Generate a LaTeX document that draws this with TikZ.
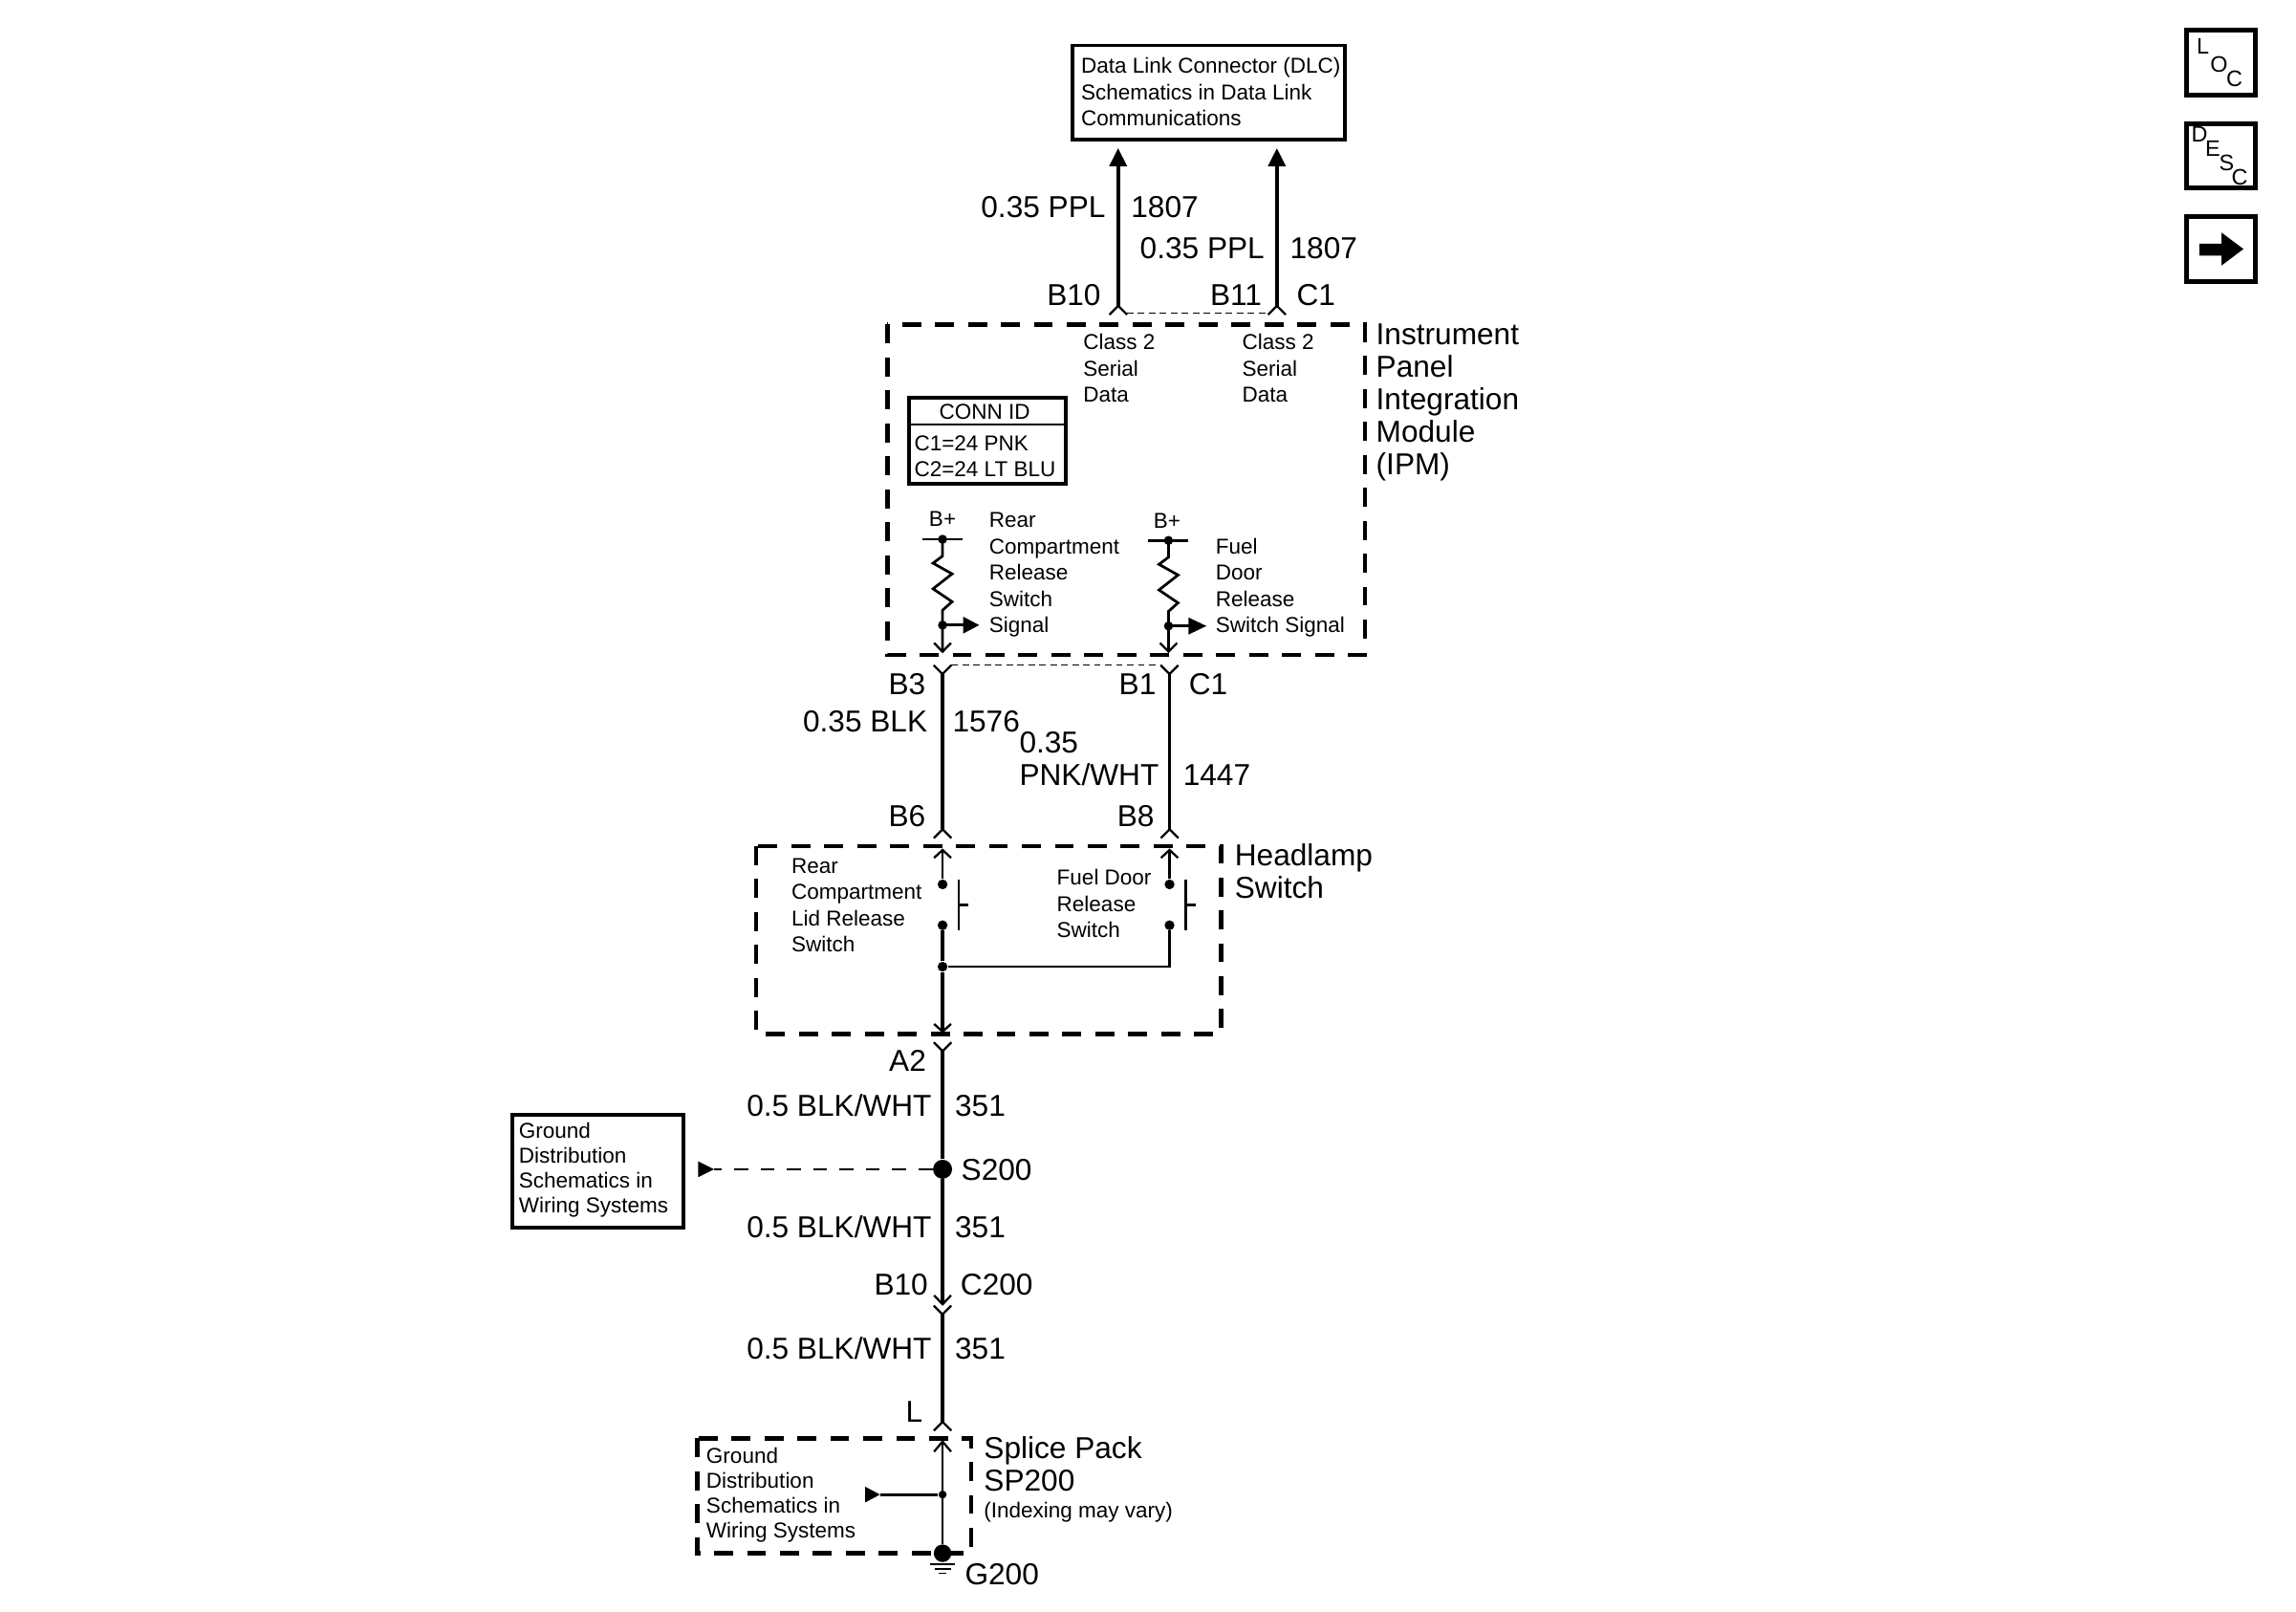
\documentclass[tikz,border=0pt]{standalone}
\usepackage{fontspec}
\setmainfont{Liberation Sans}
\newcommand{\bigf}{\fontsize{11.75pt}{12.66pt}\selectfont}
\newcommand{\smf}{\fontsize{8.36pt}{10.2pt}\selectfont}
\newcommand{\gndf}{\fontsize{8.36pt}{9.7pt}\selectfont}
\newcommand{\chevup}[1]{\draw[chev] ([shift={(-6,6)}]#1) -- (#1) -- ([shift={(6,6)}]#1);}
\newcommand{\chevdn}[1]{\draw[chev] ([shift={(-6,-6)}]#1) -- (#1) -- ([shift={(6,-6)}]#1);}
\tikzset{
  wire/.style={line width=0.052cm},
  thinwire/.style={line width=0.036cm},
  chev/.style={line width=0.03cm},
  dbox/.style={line width=0.058cm,dash pattern=on 0.26cm off 0.19cm},
  cdash/.style={line width=0.016cm,dash pattern=on 0.09cm off 0.06cm},
  bl/.style={anchor=base west,inner sep=0,outer sep=0,font=\bigf,align=left},
  sl/.style={anchor=base west,inner sep=0,outer sep=0,font=\smf,align=left},
  gl/.style={anchor=base west,inner sep=0,outer sep=0,font=\gndf,align=left},
  dotn/.style={circle,fill=black,inner sep=0,minimum size=0.125cm},
  icn/.style={anchor=base west,inner sep=0,outer sep=0,font=\fontsize{8.7pt}{10pt}\selectfont},
}
\begin{document}
\begin{tikzpicture}[x=0.02cm,y=-0.02cm]
\useasboundingbox[fill=white] (0,0) rectangle (1568,1100);

% --- DLC box ---
\draw[line width=0.052cm] (732.5,31) rectangle (918.5,95);
\node[sl] (dlctext) at (738.3,85.9) {Data Link Connector (DLC)\\Schematics in Data Link\\Communications};

% --- wires to DLC ---
\coordinate (t1) at (763.6,101.3);
\coordinate (t2) at (872,101.3);
\coordinate (b1) at (763.6,208.8);
\coordinate (b2) at (872,208.8);
\draw[wire] (b1) -- (763.6,112);
\draw[wire] (b2) -- (872,112);
\fill (t1) -- ++(6.2,12.2) -- ++(-12.4,0) -- cycle;
\fill (t2) -- ++(6.2,12.2) -- ++(-12.4,0) -- cycle;
\chevup{b1}\chevup{b2}
\draw[cdash] (769.6,214) -- (866,214);
\node[bl] (w1a) at (670,148.5) {0.35 PPL};
\node[bl] (w1b) at (772.5,148.5) {1807};
\node[bl] (w2a) at (778.6,176.5) {0.35 PPL};
\node[bl] (w2b) at (881,176.5) {1807};
\node[bl] (pb10) at (715,208.8) {B10};
\node[bl] (pb11) at (826.5,208.8) {B11};
\node[bl] (pc1) at (885.5,208.8) {C1};

% --- IPM ---
\draw[dbox] (606,221.6) rectangle (932,447);
\node[bl] (ipm) at (939.8,324.2) {Instrument\\Panel\\Integration\\Module\\(IPM)};
\node[sl] (cl1) at (739.9,274.7) {Class 2\\Serial\\Data};
\node[sl] (cl2) at (848.3,274.7) {Class 2\\Serial\\Data};
% conn id
\draw[line width=0.05cm] (620.7,271.6) rectangle (728,330.2);
\draw[line width=0.036cm] (620.7,289.8) -- (728,289.8);
\node[sl,anchor=base] (cid) at (672.4,286.3) {CONN ID};
\node[sl] (cid1) at (624.4,325.7) {C1=24 PNK\\C2=24 LT BLU};

% left pull-up
\node[sl] (bpl) at (634.5,359.2) {B+};
\draw[thinwire] (630,368.2) -- (657.5,368.2);
\coordinate (lr) at (643.7,368.2);
\coordinate (lj) at (643.7,426.8);
\coordinate (lt) at (643.7,444.9);
\draw[thinwire] (lr) -- ++(0,11.4) -- (637.2,384.5) -- (650.2,391.8) -- (637.2,402) -- (650.2,410.8) -- (643.7,416.6) -- (lj) -- (lt);
\node[dotn] at (lr) (ld1) {};
\node[dotn] at (lj) (ld2) {};
\draw[thinwire] (lj) -- (658,426.8);
\fill (668.7,426.8) -- ++(-11,-5.8) -- ++(0,11.6) -- cycle;
\draw[chev] (637.9,439) -- (lt) -- (649.5,439);
\node[sl] (lt1) at (675.6,432) {Rear\\Compartment\\Release\\Switch\\Signal};

% right pull-up
\node[sl] (bpr) at (787.8,360.6) {B+};
\draw[thinwire] (784,369) -- (811.7,369);
\coordinate (rr) at (798,369);
\coordinate (rj) at (798,427.4);
\coordinate (rt) at (798,444.9);
\draw[thinwire] (rr) -- ++(0,11.4) -- (791.5,385.3) -- (804.5,392.6) -- (791.5,402.8) -- (804.5,411.6) -- (798,417.4) -- (rj) -- (rt);
\node[dotn] at (rr) (rd1) {};
\node[dotn] at (rj) (rd2) {};
\draw[thinwire] (rj) -- (812,427.4);
\fill (823.9,427.4) -- ++(-12.2,-5.8) -- ++(0,11.6) -- cycle;
\draw[chev] (792.2,439) -- (rt) -- (803.8,439);
\node[sl] (rt1) at (830.2,432) {Fuel\\Door\\Release\\Switch Signal};

% --- wires IPM to headlamp switch ---
\coordinate (c3) at (643.7,460.2);
\coordinate (c4) at (798.7,460.2);
\coordinate (c5) at (643.7,566.2);
\coordinate (c6) at (798.7,566.2);
\draw[wire] (c3) -- (c5);
\draw[thinwire] (c4) -- (c6);
\chevdn{c3}\chevdn{c4}\chevup{c5}\chevup{c6}
\draw[cdash] (649.7,454.2) -- (792.7,454.2);
\node[bl] (pb3) at (606.8,474.3) {B3};
\node[bl] (pb1) at (764.2,474.3) {B1};
\node[bl] (pc1b) at (812,474.3) {C1};
\node[bl] (w3a) at (548.4,499.4) {0.35 BLK};
\node[bl] (w3b) at (650.5,499.4) {1576};
\node[bl] (w4a) at (696.2,536.4) {0.35\\PNK/WHT};
\node[bl] (w4b) at (808,536.4) {1447};
\node[bl] (pb6) at (606.8,564) {B6};
\node[bl] (pb8) at (763,564) {B8};

% --- Headlamp switch ---
\draw[dbox] (516.4,577.7) rectangle (834,706);
\node[bl] (hl) at (843.3,613.6) {Headlamp\\Switch};
\node[sl] (hl1) at (540.6,650) {Rear\\Compartment\\Lid Release\\Switch};
\node[sl] (hl2) at (721.8,640.2) {Fuel Door\\Release\\Switch};
\coordinate (s1t) at (643.7,580.3);
\coordinate (s2t) at (798.7,580.3);
\node[dotn,minimum size=0.135cm] (s1a) at (643.7,603.8) {};
\node[dotn,minimum size=0.135cm] (s1b) at (643.7,631.7) {};
\node[dotn,minimum size=0.135cm] (s2a) at (798.7,603.8) {};
\node[dotn,minimum size=0.135cm] (s2b) at (798.7,631.7) {};
\node[dotn,minimum size=0.135cm] (sj) at (643.7,660) {};
\coordinate (sc) at (798.7,660);
\coordinate (sb) at (643.7,704.3);
\draw[thinwire] (s1t) -- (s1a);
\draw[thinwire] (s2t) -- (s2a);
\draw[chev] (637.9,585.7) -- (s1t) -- (649.5,585.7);
\draw[chev] (792.9,585.7) -- (s2t) -- (804.5,585.7);
\draw[wire] (s1b) -- (sj) -- (sb);
\draw[thinwire] (s2b) -- (sc) -- (sj);
\draw[chev] (637.9,699.1) -- (sb) -- (649.5,699.1);
\draw[thinwire] (654.8,600.5) -- (654.8,635.4);
\draw[thinwire] (654.8,618) -- (661.2,618);
\draw[thinwire] (809.8,600.5) -- (809.8,635.4);
\draw[thinwire] (809.8,618) -- (816.8,618);

% --- wire down ---
\coordinate (a2) at (643.7,717.6);
\chevdn{a2}
\node[bl] (pa2) at (607.2,731.5) {A2};
\node[dotn,minimum size=0.26cm] (s200) at (643.7,798.3) {};
\coordinate (c200a) at (643.7,890.5);
\coordinate (c200b) at (643.7,897.4);
\coordinate (lconn) at (643.7,970.8);
\draw[wire] (a2) -- (s200) -- (c200a);
\draw[chev] (637.9,884.4) -- (c200a) -- (649.5,884.4);
\chevdn{c200b}
\draw[wire] (c200b) -- (lconn);
\chevup{lconn}
\node[bl] (w5a) at (510,762) {0.5 BLK/WHT};
\node[bl] (w5b) at (652.2,762) {351};
\node[bl] (w6a) at (510,845) {0.5 BLK/WHT};
\node[bl] (w6b) at (652.2,845) {351};
\node[bl] (w7a) at (510,927.6) {0.5 BLK/WHT};
\node[bl] (w7b) at (652.2,927.6) {351};
\node[bl] (ps200) at (656.5,806) {S200};
\node[bl] (pb10b) at (597,884.2) {B10};
\node[bl] (pc200) at (656,884.2) {C200};
\node[bl] (pl) at (618.6,970.8) {L};

% --- Ground box ---
\draw[line width=0.052cm] (350,761.4) rectangle (467,838);
\node[gl] (gd) at (354.4,828.1) {Ground\\Distribution\\Schematics in\\Wiring Systems};
\coordinate (gt) at (487.7,798.3);
\draw[line width=0.03cm,dash pattern=on 0.19cm off 0.17cm] (s200) -- (gt);
\fill (gt) -- (476.8,792.9) -- (476.8,803.7) -- cycle;

% --- Splice pack ---
\draw[dbox] (476.2,982) rectangle (663.3,1060.5);
\node[bl] (sp) at (672,1018) {Splice Pack\\SP200};
\node[sl] (spi) at (672,1036.3) {(Indexing may vary)};
\node[gl] (gd2) at (482.4,1050) {Ground\\Distribution\\Schematics in\\Wiring Systems};
\coordinate (spt) at (643.7,984.2);
\node[dotn,minimum size=0.24cm] (g200) at (643.7,1060.5) {};
\node[dotn,minimum size=0.11cm] (spj) at (643.7,1020.4) {};
\coordinate (spa) at (601,1020.4);
\draw[thinwire] (spt) -- (g200);
\draw[chev] (637.9,991.1) -- (spt) -- (649.5,991.1);
\draw[thinwire] (spa) -- (spj);
\fill (spa) -- (590.8,1015) -- (590.8,1025.8) -- cycle;
\draw[line width=0.022cm] (635,1067.8) -- (652.4,1067.8);
\draw[line width=0.022cm] (638.2,1071) -- (649.2,1071);
\draw[line width=0.022cm] (641.2,1074.2) -- (646.2,1074.2);
\node[bl] (pg200) at (659,1082) {G200};

% --- Side icons ---
\draw[line width=0.064cm] (1493.1,20.5) rectangle (1540.2,64.8);
\draw[line width=0.064cm] (1493.1,84.3) rectangle (1540.2,128.4);
\draw[line width=0.064cm] (1493.1,147.8) rectangle (1540.2,192.5);
\node[icn] (iL) at (1500.2,37) {L};
\node[icn] (iO) at (1509.5,49.4) {O};
\node[icn] (iC) at (1520.4,58.8) {C};
\node[icn] (iD) at (1496.5,97.2) {D};
\node[icn] (iE) at (1506,106.6) {E};
\node[icn] (iS) at (1515.5,116.4) {S};
\node[icn] (iC2) at (1524,126.2) {C};
\fill (1501.9,166.4) -- (1517.1,166.4) -- (1517.1,158.8) -- (1532.1,170) -- (1517.1,181.3) -- (1517.1,174.5) -- (1501.9,174.5) -- cycle;
\end{tikzpicture}
\end{document}
